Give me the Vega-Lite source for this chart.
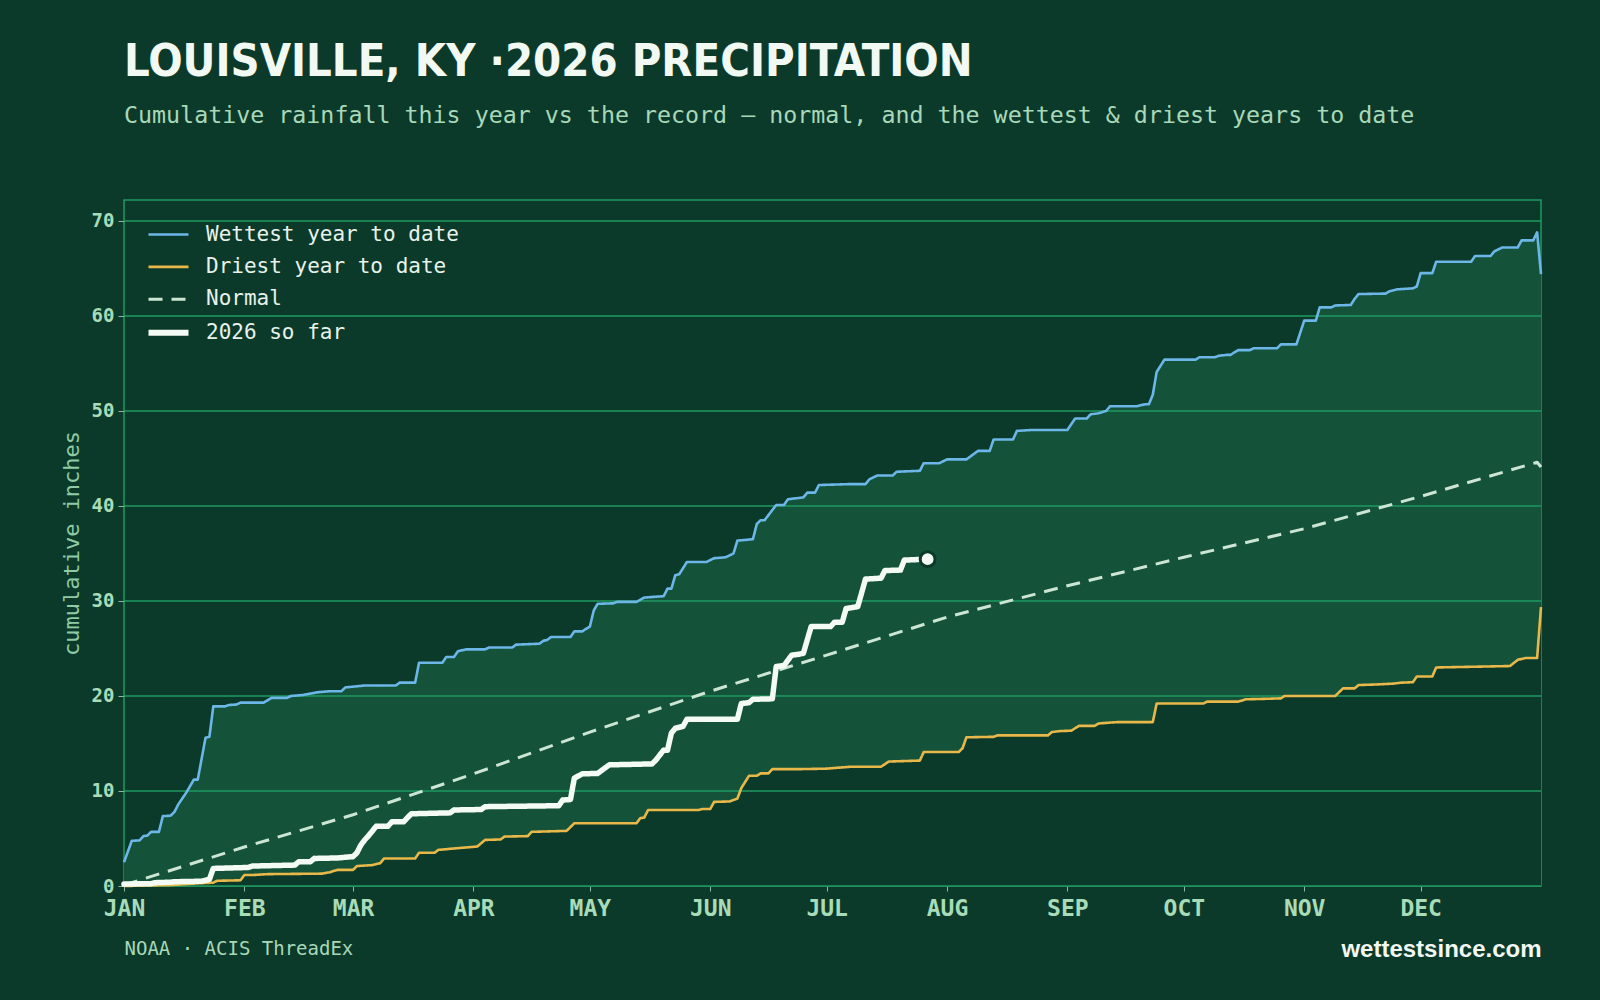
{
  "$schema": "https://vega.github.io/schema/vega-lite/v6.json",
  "autosize": {"type": "none"},
  "width": 1417,
  "height": 686,
  "padding": {"left": 124, "top": 200, "right": 59, "bottom": 114},
  "background": "#0c3a2a",
  "config": {
    "view": {"stroke": "#1f9a60", "strokeWidth": 1.5},
    "font": "DejaVu Sans Mono"
  },
  "title": {
    "text": "LOUISVILLE, KY ·2026 PRECIPITATION",
    "subtitle": "Cumulative rainfall this year vs the record — normal, and the wettest & driest years to date",
    "anchor": "start",
    "frame": "group",
    "font": "Liberation Sans Narrow, DejaVu Sans Condensed, Liberation Sans",
    "fontSize": 45,
    "fontWeight": "bold",
    "color": "#f2f8f2",
    "subtitleFont": "DejaVu Sans Mono",
    "subtitleFontSize": 23.3,
    "subtitleColor": "#a8d8b8",
    "subtitlePadding": 20,
    "offset": 73
  },
  "datasets": {
    "rain": [
      {"series": "Wettest year to date", "date": "2026-01-01", "inches": 2.5},
      {"series": "Wettest year to date", "date": "2026-01-03", "inches": 4.75},
      {"series": "Wettest year to date", "date": "2026-01-05", "inches": 4.8},
      {"series": "Wettest year to date", "date": "2026-01-06", "inches": 5.25},
      {"series": "Wettest year to date", "date": "2026-01-07", "inches": 5.3},
      {"series": "Wettest year to date", "date": "2026-01-08", "inches": 5.7},
      {"series": "Wettest year to date", "date": "2026-01-10", "inches": 5.7},
      {"series": "Wettest year to date", "date": "2026-01-11", "inches": 7.35},
      {"series": "Wettest year to date", "date": "2026-01-13", "inches": 7.4},
      {"series": "Wettest year to date", "date": "2026-01-14", "inches": 7.8},
      {"series": "Wettest year to date", "date": "2026-01-15", "inches": 8.6},
      {"series": "Wettest year to date", "date": "2026-01-16", "inches": 9.2},
      {"series": "Wettest year to date", "date": "2026-01-17", "inches": 9.8},
      {"series": "Wettest year to date", "date": "2026-01-18", "inches": 10.5},
      {"series": "Wettest year to date", "date": "2026-01-19", "inches": 11.2},
      {"series": "Wettest year to date", "date": "2026-01-20", "inches": 11.2},
      {"series": "Wettest year to date", "date": "2026-01-21", "inches": 13.4},
      {"series": "Wettest year to date", "date": "2026-01-22", "inches": 15.6},
      {"series": "Wettest year to date", "date": "2026-01-23", "inches": 15.7},
      {"series": "Wettest year to date", "date": "2026-01-24", "inches": 18.9},
      {"series": "Wettest year to date", "date": "2026-01-27", "inches": 18.9},
      {"series": "Wettest year to date", "date": "2026-01-28", "inches": 19.05},
      {"series": "Wettest year to date", "date": "2026-01-30", "inches": 19.1},
      {"series": "Wettest year to date", "date": "2026-01-31", "inches": 19.3},
      {"series": "Wettest year to date", "date": "2026-02-06", "inches": 19.3},
      {"series": "Wettest year to date", "date": "2026-02-08", "inches": 19.8},
      {"series": "Wettest year to date", "date": "2026-02-12", "inches": 19.8},
      {"series": "Wettest year to date", "date": "2026-02-13", "inches": 20.0},
      {"series": "Wettest year to date", "date": "2026-02-16", "inches": 20.1},
      {"series": "Wettest year to date", "date": "2026-02-20", "inches": 20.4},
      {"series": "Wettest year to date", "date": "2026-02-23", "inches": 20.5},
      {"series": "Wettest year to date", "date": "2026-02-26", "inches": 20.5},
      {"series": "Wettest year to date", "date": "2026-02-27", "inches": 20.9},
      {"series": "Wettest year to date", "date": "2026-03-04", "inches": 21.1},
      {"series": "Wettest year to date", "date": "2026-03-12", "inches": 21.1},
      {"series": "Wettest year to date", "date": "2026-03-13", "inches": 21.4},
      {"series": "Wettest year to date", "date": "2026-03-17", "inches": 21.4},
      {"series": "Wettest year to date", "date": "2026-03-18", "inches": 23.5},
      {"series": "Wettest year to date", "date": "2026-03-24", "inches": 23.5},
      {"series": "Wettest year to date", "date": "2026-03-25", "inches": 24.1},
      {"series": "Wettest year to date", "date": "2026-03-27", "inches": 24.1},
      {"series": "Wettest year to date", "date": "2026-03-28", "inches": 24.7},
      {"series": "Wettest year to date", "date": "2026-03-30", "inches": 24.9},
      {"series": "Wettest year to date", "date": "2026-04-04", "inches": 24.9},
      {"series": "Wettest year to date", "date": "2026-04-05", "inches": 25.1},
      {"series": "Wettest year to date", "date": "2026-04-11", "inches": 25.1},
      {"series": "Wettest year to date", "date": "2026-04-12", "inches": 25.4},
      {"series": "Wettest year to date", "date": "2026-04-18", "inches": 25.5},
      {"series": "Wettest year to date", "date": "2026-04-19", "inches": 25.8},
      {"series": "Wettest year to date", "date": "2026-04-20", "inches": 25.9},
      {"series": "Wettest year to date", "date": "2026-04-21", "inches": 26.2},
      {"series": "Wettest year to date", "date": "2026-04-26", "inches": 26.2},
      {"series": "Wettest year to date", "date": "2026-04-27", "inches": 26.8},
      {"series": "Wettest year to date", "date": "2026-04-29", "inches": 26.8},
      {"series": "Wettest year to date", "date": "2026-05-01", "inches": 27.3},
      {"series": "Wettest year to date", "date": "2026-05-02", "inches": 29.0},
      {"series": "Wettest year to date", "date": "2026-05-03", "inches": 29.7},
      {"series": "Wettest year to date", "date": "2026-05-07", "inches": 29.75},
      {"series": "Wettest year to date", "date": "2026-05-08", "inches": 29.9},
      {"series": "Wettest year to date", "date": "2026-05-13", "inches": 29.9},
      {"series": "Wettest year to date", "date": "2026-05-15", "inches": 30.35},
      {"series": "Wettest year to date", "date": "2026-05-18", "inches": 30.45},
      {"series": "Wettest year to date", "date": "2026-05-20", "inches": 30.5},
      {"series": "Wettest year to date", "date": "2026-05-21", "inches": 31.3},
      {"series": "Wettest year to date", "date": "2026-05-22", "inches": 31.3},
      {"series": "Wettest year to date", "date": "2026-05-23", "inches": 32.7},
      {"series": "Wettest year to date", "date": "2026-05-24", "inches": 32.8},
      {"series": "Wettest year to date", "date": "2026-05-26", "inches": 34.1},
      {"series": "Wettest year to date", "date": "2026-05-31", "inches": 34.1},
      {"series": "Wettest year to date", "date": "2026-06-02", "inches": 34.5},
      {"series": "Wettest year to date", "date": "2026-06-05", "inches": 34.6},
      {"series": "Wettest year to date", "date": "2026-06-07", "inches": 35.0},
      {"series": "Wettest year to date", "date": "2026-06-08", "inches": 36.35},
      {"series": "Wettest year to date", "date": "2026-06-12", "inches": 36.5},
      {"series": "Wettest year to date", "date": "2026-06-13", "inches": 38.1},
      {"series": "Wettest year to date", "date": "2026-06-14", "inches": 38.5},
      {"series": "Wettest year to date", "date": "2026-06-15", "inches": 38.5},
      {"series": "Wettest year to date", "date": "2026-06-18", "inches": 40.1},
      {"series": "Wettest year to date", "date": "2026-06-20", "inches": 40.1},
      {"series": "Wettest year to date", "date": "2026-06-21", "inches": 40.7},
      {"series": "Wettest year to date", "date": "2026-06-25", "inches": 40.9},
      {"series": "Wettest year to date", "date": "2026-06-26", "inches": 41.4},
      {"series": "Wettest year to date", "date": "2026-06-28", "inches": 41.4},
      {"series": "Wettest year to date", "date": "2026-06-29", "inches": 42.2},
      {"series": "Wettest year to date", "date": "2026-07-07", "inches": 42.3},
      {"series": "Wettest year to date", "date": "2026-07-11", "inches": 42.3},
      {"series": "Wettest year to date", "date": "2026-07-12", "inches": 42.8},
      {"series": "Wettest year to date", "date": "2026-07-14", "inches": 43.2},
      {"series": "Wettest year to date", "date": "2026-07-18", "inches": 43.2},
      {"series": "Wettest year to date", "date": "2026-07-19", "inches": 43.6},
      {"series": "Wettest year to date", "date": "2026-07-25", "inches": 43.7},
      {"series": "Wettest year to date", "date": "2026-07-26", "inches": 44.5},
      {"series": "Wettest year to date", "date": "2026-07-30", "inches": 44.5},
      {"series": "Wettest year to date", "date": "2026-08-01", "inches": 44.9},
      {"series": "Wettest year to date", "date": "2026-08-06", "inches": 44.9},
      {"series": "Wettest year to date", "date": "2026-08-08", "inches": 45.5},
      {"series": "Wettest year to date", "date": "2026-08-09", "inches": 45.8},
      {"series": "Wettest year to date", "date": "2026-08-12", "inches": 45.8},
      {"series": "Wettest year to date", "date": "2026-08-13", "inches": 47.0},
      {"series": "Wettest year to date", "date": "2026-08-18", "inches": 47.0},
      {"series": "Wettest year to date", "date": "2026-08-19", "inches": 47.9},
      {"series": "Wettest year to date", "date": "2026-08-23", "inches": 48.0},
      {"series": "Wettest year to date", "date": "2026-09-01", "inches": 48.0},
      {"series": "Wettest year to date", "date": "2026-09-03", "inches": 49.2},
      {"series": "Wettest year to date", "date": "2026-09-06", "inches": 49.2},
      {"series": "Wettest year to date", "date": "2026-09-07", "inches": 49.65},
      {"series": "Wettest year to date", "date": "2026-09-09", "inches": 49.75},
      {"series": "Wettest year to date", "date": "2026-09-11", "inches": 50.0},
      {"series": "Wettest year to date", "date": "2026-09-12", "inches": 50.5},
      {"series": "Wettest year to date", "date": "2026-09-19", "inches": 50.5},
      {"series": "Wettest year to date", "date": "2026-09-21", "inches": 50.7},
      {"series": "Wettest year to date", "date": "2026-09-22", "inches": 50.7},
      {"series": "Wettest year to date", "date": "2026-09-23", "inches": 51.7},
      {"series": "Wettest year to date", "date": "2026-09-24", "inches": 54.1},
      {"series": "Wettest year to date", "date": "2026-09-26", "inches": 55.4},
      {"series": "Wettest year to date", "date": "2026-10-04", "inches": 55.4},
      {"series": "Wettest year to date", "date": "2026-10-05", "inches": 55.65},
      {"series": "Wettest year to date", "date": "2026-10-09", "inches": 55.65},
      {"series": "Wettest year to date", "date": "2026-10-10", "inches": 55.8},
      {"series": "Wettest year to date", "date": "2026-10-12", "inches": 55.9},
      {"series": "Wettest year to date", "date": "2026-10-13", "inches": 55.9},
      {"series": "Wettest year to date", "date": "2026-10-15", "inches": 56.4},
      {"series": "Wettest year to date", "date": "2026-10-18", "inches": 56.4},
      {"series": "Wettest year to date", "date": "2026-10-19", "inches": 56.6},
      {"series": "Wettest year to date", "date": "2026-10-25", "inches": 56.6},
      {"series": "Wettest year to date", "date": "2026-10-26", "inches": 57.0},
      {"series": "Wettest year to date", "date": "2026-10-30", "inches": 57.0},
      {"series": "Wettest year to date", "date": "2026-11-01", "inches": 59.5},
      {"series": "Wettest year to date", "date": "2026-11-04", "inches": 59.5},
      {"series": "Wettest year to date", "date": "2026-11-05", "inches": 60.9},
      {"series": "Wettest year to date", "date": "2026-11-08", "inches": 60.9},
      {"series": "Wettest year to date", "date": "2026-11-09", "inches": 61.1},
      {"series": "Wettest year to date", "date": "2026-11-13", "inches": 61.15},
      {"series": "Wettest year to date", "date": "2026-11-14", "inches": 61.8},
      {"series": "Wettest year to date", "date": "2026-11-15", "inches": 62.3},
      {"series": "Wettest year to date", "date": "2026-11-22", "inches": 62.35},
      {"series": "Wettest year to date", "date": "2026-11-23", "inches": 62.6},
      {"series": "Wettest year to date", "date": "2026-11-25", "inches": 62.8},
      {"series": "Wettest year to date", "date": "2026-11-29", "inches": 62.9},
      {"series": "Wettest year to date", "date": "2026-11-30", "inches": 63.1},
      {"series": "Wettest year to date", "date": "2026-12-01", "inches": 64.5},
      {"series": "Wettest year to date", "date": "2026-12-04", "inches": 64.5},
      {"series": "Wettest year to date", "date": "2026-12-05", "inches": 65.7},
      {"series": "Wettest year to date", "date": "2026-12-14", "inches": 65.7},
      {"series": "Wettest year to date", "date": "2026-12-15", "inches": 66.3},
      {"series": "Wettest year to date", "date": "2026-12-19", "inches": 66.3},
      {"series": "Wettest year to date", "date": "2026-12-20", "inches": 66.8},
      {"series": "Wettest year to date", "date": "2026-12-21", "inches": 67.0},
      {"series": "Wettest year to date", "date": "2026-12-22", "inches": 67.2},
      {"series": "Wettest year to date", "date": "2026-12-26", "inches": 67.2},
      {"series": "Wettest year to date", "date": "2026-12-27", "inches": 67.95},
      {"series": "Wettest year to date", "date": "2026-12-30", "inches": 67.95},
      {"series": "Wettest year to date", "date": "2026-12-31", "inches": 68.8},
      {"series": "Wettest year to date", "date": "2027-01-01", "inches": 64.4},

      {"series": "Driest year to date", "date": "2026-01-01", "inches": 0.0},
      {"series": "Driest year to date", "date": "2026-01-13", "inches": 0.1},
      {"series": "Driest year to date", "date": "2026-01-21", "inches": 0.3},
      {"series": "Driest year to date", "date": "2026-01-24", "inches": 0.35},
      {"series": "Driest year to date", "date": "2026-01-25", "inches": 0.55},
      {"series": "Driest year to date", "date": "2026-01-31", "inches": 0.6},
      {"series": "Driest year to date", "date": "2026-02-01", "inches": 1.15},
      {"series": "Driest year to date", "date": "2026-02-03", "inches": 1.15},
      {"series": "Driest year to date", "date": "2026-02-07", "inches": 1.25},
      {"series": "Driest year to date", "date": "2026-02-21", "inches": 1.3},
      {"series": "Driest year to date", "date": "2026-02-23", "inches": 1.45},
      {"series": "Driest year to date", "date": "2026-02-25", "inches": 1.7},
      {"series": "Driest year to date", "date": "2026-03-01", "inches": 1.7},
      {"series": "Driest year to date", "date": "2026-03-02", "inches": 2.1},
      {"series": "Driest year to date", "date": "2026-03-06", "inches": 2.2},
      {"series": "Driest year to date", "date": "2026-03-08", "inches": 2.4},
      {"series": "Driest year to date", "date": "2026-03-09", "inches": 2.9},
      {"series": "Driest year to date", "date": "2026-03-17", "inches": 2.9},
      {"series": "Driest year to date", "date": "2026-03-18", "inches": 3.5},
      {"series": "Driest year to date", "date": "2026-03-22", "inches": 3.5},
      {"series": "Driest year to date", "date": "2026-03-23", "inches": 3.8},
      {"series": "Driest year to date", "date": "2026-03-27", "inches": 3.95},
      {"series": "Driest year to date", "date": "2026-04-02", "inches": 4.15},
      {"series": "Driest year to date", "date": "2026-04-04", "inches": 4.85},
      {"series": "Driest year to date", "date": "2026-04-08", "inches": 4.9},
      {"series": "Driest year to date", "date": "2026-04-09", "inches": 5.2},
      {"series": "Driest year to date", "date": "2026-04-15", "inches": 5.25},
      {"series": "Driest year to date", "date": "2026-04-16", "inches": 5.7},
      {"series": "Driest year to date", "date": "2026-04-25", "inches": 5.8},
      {"series": "Driest year to date", "date": "2026-04-27", "inches": 6.6},
      {"series": "Driest year to date", "date": "2026-05-13", "inches": 6.6},
      {"series": "Driest year to date", "date": "2026-05-14", "inches": 7.15},
      {"series": "Driest year to date", "date": "2026-05-15", "inches": 7.2},
      {"series": "Driest year to date", "date": "2026-05-16", "inches": 8.0},
      {"series": "Driest year to date", "date": "2026-05-29", "inches": 8.0},
      {"series": "Driest year to date", "date": "2026-05-30", "inches": 8.1},
      {"series": "Driest year to date", "date": "2026-06-01", "inches": 8.1},
      {"series": "Driest year to date", "date": "2026-06-02", "inches": 8.85},
      {"series": "Driest year to date", "date": "2026-06-06", "inches": 8.9},
      {"series": "Driest year to date", "date": "2026-06-08", "inches": 9.2},
      {"series": "Driest year to date", "date": "2026-06-09", "inches": 10.3},
      {"series": "Driest year to date", "date": "2026-06-11", "inches": 11.6},
      {"series": "Driest year to date", "date": "2026-06-13", "inches": 11.6},
      {"series": "Driest year to date", "date": "2026-06-14", "inches": 11.85},
      {"series": "Driest year to date", "date": "2026-06-16", "inches": 11.85},
      {"series": "Driest year to date", "date": "2026-06-17", "inches": 12.3},
      {"series": "Driest year to date", "date": "2026-06-24", "inches": 12.3},
      {"series": "Driest year to date", "date": "2026-07-01", "inches": 12.35},
      {"series": "Driest year to date", "date": "2026-07-07", "inches": 12.55},
      {"series": "Driest year to date", "date": "2026-07-15", "inches": 12.55},
      {"series": "Driest year to date", "date": "2026-07-17", "inches": 13.1},
      {"series": "Driest year to date", "date": "2026-07-21", "inches": 13.15},
      {"series": "Driest year to date", "date": "2026-07-25", "inches": 13.2},
      {"series": "Driest year to date", "date": "2026-07-26", "inches": 14.1},
      {"series": "Driest year to date", "date": "2026-08-04", "inches": 14.1},
      {"series": "Driest year to date", "date": "2026-08-05", "inches": 14.5},
      {"series": "Driest year to date", "date": "2026-08-06", "inches": 15.65},
      {"series": "Driest year to date", "date": "2026-08-13", "inches": 15.7},
      {"series": "Driest year to date", "date": "2026-08-14", "inches": 15.85},
      {"series": "Driest year to date", "date": "2026-08-27", "inches": 15.85},
      {"series": "Driest year to date", "date": "2026-08-28", "inches": 16.2},
      {"series": "Driest year to date", "date": "2026-08-30", "inches": 16.3},
      {"series": "Driest year to date", "date": "2026-09-02", "inches": 16.35},
      {"series": "Driest year to date", "date": "2026-09-04", "inches": 16.85},
      {"series": "Driest year to date", "date": "2026-09-08", "inches": 16.85},
      {"series": "Driest year to date", "date": "2026-09-09", "inches": 17.1},
      {"series": "Driest year to date", "date": "2026-09-12", "inches": 17.2},
      {"series": "Driest year to date", "date": "2026-09-14", "inches": 17.25},
      {"series": "Driest year to date", "date": "2026-09-23", "inches": 17.25},
      {"series": "Driest year to date", "date": "2026-09-24", "inches": 19.2},
      {"series": "Driest year to date", "date": "2026-10-06", "inches": 19.2},
      {"series": "Driest year to date", "date": "2026-10-07", "inches": 19.4},
      {"series": "Driest year to date", "date": "2026-10-15", "inches": 19.4},
      {"series": "Driest year to date", "date": "2026-10-17", "inches": 19.65},
      {"series": "Driest year to date", "date": "2026-10-22", "inches": 19.7},
      {"series": "Driest year to date", "date": "2026-10-26", "inches": 19.75},
      {"series": "Driest year to date", "date": "2026-10-27", "inches": 20.0},
      {"series": "Driest year to date", "date": "2026-11-09", "inches": 20.0},
      {"series": "Driest year to date", "date": "2026-11-11", "inches": 20.8},
      {"series": "Driest year to date", "date": "2026-11-14", "inches": 20.8},
      {"series": "Driest year to date", "date": "2026-11-15", "inches": 21.15},
      {"series": "Driest year to date", "date": "2026-11-19", "inches": 21.2},
      {"series": "Driest year to date", "date": "2026-11-24", "inches": 21.3},
      {"series": "Driest year to date", "date": "2026-11-26", "inches": 21.4},
      {"series": "Driest year to date", "date": "2026-11-29", "inches": 21.45},
      {"series": "Driest year to date", "date": "2026-11-30", "inches": 22.05},
      {"series": "Driest year to date", "date": "2026-12-04", "inches": 22.05},
      {"series": "Driest year to date", "date": "2026-12-05", "inches": 23.0},
      {"series": "Driest year to date", "date": "2026-12-24", "inches": 23.15},
      {"series": "Driest year to date", "date": "2026-12-26", "inches": 23.8},
      {"series": "Driest year to date", "date": "2026-12-28", "inches": 24.0},
      {"series": "Driest year to date", "date": "2026-12-31", "inches": 24.0},
      {"series": "Driest year to date", "date": "2027-01-01", "inches": 29.35},

      {"series": "Normal", "date": "2026-01-01", "inches": 0.1},
      {"series": "Normal", "date": "2026-02-01", "inches": 4.1},
      {"series": "Normal", "date": "2026-03-01", "inches": 7.5},
      {"series": "Normal", "date": "2026-04-01", "inches": 11.8},
      {"series": "Normal", "date": "2026-05-01", "inches": 16.2},
      {"series": "Normal", "date": "2026-06-01", "inches": 20.5},
      {"series": "Normal", "date": "2026-07-01", "inches": 24.3},
      {"series": "Normal", "date": "2026-08-01", "inches": 28.3},
      {"series": "Normal", "date": "2026-09-01", "inches": 31.6},
      {"series": "Normal", "date": "2026-10-01", "inches": 34.6},
      {"series": "Normal", "date": "2026-11-01", "inches": 37.6},
      {"series": "Normal", "date": "2026-12-01", "inches": 41.0},
      {"series": "Normal", "date": "2026-12-31", "inches": 44.6},
      {"series": "Normal", "date": "2027-01-01", "inches": 44.1},

      {"series": "2026 so far", "date": "2026-01-01", "inches": 0.2},
      {"series": "2026 so far", "date": "2026-01-08", "inches": 0.25},
      {"series": "2026 so far", "date": "2026-01-09", "inches": 0.35},
      {"series": "2026 so far", "date": "2026-01-13", "inches": 0.4},
      {"series": "2026 so far", "date": "2026-01-14", "inches": 0.45},
      {"series": "2026 so far", "date": "2026-01-21", "inches": 0.5},
      {"series": "2026 so far", "date": "2026-01-23", "inches": 0.7},
      {"series": "2026 so far", "date": "2026-01-24", "inches": 1.85},
      {"series": "2026 so far", "date": "2026-02-02", "inches": 1.95},
      {"series": "2026 so far", "date": "2026-02-03", "inches": 2.1},
      {"series": "2026 so far", "date": "2026-02-14", "inches": 2.2},
      {"series": "2026 so far", "date": "2026-02-15", "inches": 2.55},
      {"series": "2026 so far", "date": "2026-02-18", "inches": 2.55},
      {"series": "2026 so far", "date": "2026-02-19", "inches": 2.9},
      {"series": "2026 so far", "date": "2026-02-25", "inches": 2.95},
      {"series": "2026 so far", "date": "2026-03-01", "inches": 3.1},
      {"series": "2026 so far", "date": "2026-03-02", "inches": 3.5},
      {"series": "2026 so far", "date": "2026-03-03", "inches": 4.3},
      {"series": "2026 so far", "date": "2026-03-04", "inches": 4.85},
      {"series": "2026 so far", "date": "2026-03-05", "inches": 5.3},
      {"series": "2026 so far", "date": "2026-03-07", "inches": 6.3},
      {"series": "2026 so far", "date": "2026-03-10", "inches": 6.3},
      {"series": "2026 so far", "date": "2026-03-11", "inches": 6.75},
      {"series": "2026 so far", "date": "2026-03-14", "inches": 6.75},
      {"series": "2026 so far", "date": "2026-03-16", "inches": 7.6},
      {"series": "2026 so far", "date": "2026-03-26", "inches": 7.7},
      {"series": "2026 so far", "date": "2026-03-27", "inches": 8.0},
      {"series": "2026 so far", "date": "2026-04-03", "inches": 8.05},
      {"series": "2026 so far", "date": "2026-04-04", "inches": 8.35},
      {"series": "2026 so far", "date": "2026-04-23", "inches": 8.45},
      {"series": "2026 so far", "date": "2026-04-24", "inches": 9.05},
      {"series": "2026 so far", "date": "2026-04-26", "inches": 9.1},
      {"series": "2026 so far", "date": "2026-04-27", "inches": 11.35},
      {"series": "2026 so far", "date": "2026-04-29", "inches": 11.8},
      {"series": "2026 so far", "date": "2026-05-03", "inches": 11.85},
      {"series": "2026 so far", "date": "2026-05-06", "inches": 12.75},
      {"series": "2026 so far", "date": "2026-05-17", "inches": 12.85},
      {"series": "2026 so far", "date": "2026-05-18", "inches": 13.25},
      {"series": "2026 so far", "date": "2026-05-20", "inches": 14.3},
      {"series": "2026 so far", "date": "2026-05-21", "inches": 14.3},
      {"series": "2026 so far", "date": "2026-05-22", "inches": 16.1},
      {"series": "2026 so far", "date": "2026-05-23", "inches": 16.6},
      {"series": "2026 so far", "date": "2026-05-25", "inches": 16.8},
      {"series": "2026 so far", "date": "2026-05-26", "inches": 17.55},
      {"series": "2026 so far", "date": "2026-06-08", "inches": 17.55},
      {"series": "2026 so far", "date": "2026-06-09", "inches": 19.2},
      {"series": "2026 so far", "date": "2026-06-11", "inches": 19.3},
      {"series": "2026 so far", "date": "2026-06-12", "inches": 19.65},
      {"series": "2026 so far", "date": "2026-06-17", "inches": 19.7},
      {"series": "2026 so far", "date": "2026-06-18", "inches": 23.1},
      {"series": "2026 so far", "date": "2026-06-20", "inches": 23.2},
      {"series": "2026 so far", "date": "2026-06-22", "inches": 24.3},
      {"series": "2026 so far", "date": "2026-06-24", "inches": 24.4},
      {"series": "2026 so far", "date": "2026-06-25", "inches": 24.5},
      {"series": "2026 so far", "date": "2026-06-27", "inches": 27.3},
      {"series": "2026 so far", "date": "2026-07-02", "inches": 27.3},
      {"series": "2026 so far", "date": "2026-07-03", "inches": 27.75},
      {"series": "2026 so far", "date": "2026-07-05", "inches": 27.75},
      {"series": "2026 so far", "date": "2026-07-06", "inches": 29.2},
      {"series": "2026 so far", "date": "2026-07-09", "inches": 29.4},
      {"series": "2026 so far", "date": "2026-07-11", "inches": 32.3},
      {"series": "2026 so far", "date": "2026-07-15", "inches": 32.4},
      {"series": "2026 so far", "date": "2026-07-16", "inches": 33.2},
      {"series": "2026 so far", "date": "2026-07-20", "inches": 33.25},
      {"series": "2026 so far", "date": "2026-07-21", "inches": 34.3},
      {"series": "2026 so far", "date": "2026-07-27", "inches": 34.4}
    ],
    "gridlines": [
      {"inches": 0}, {"inches": 10}, {"inches": 20}, {"inches": 30},
      {"inches": 40}, {"inches": 50}, {"inches": 60}, {"inches": 70}
    ]
  },
  "layer": [
    {
      "data": {"name": "rain"},
      "layer": [
        {
          "transform": [{"filter": {"field": "series", "equal": "Wettest year to date"}}],
          "mark": {"type": "area", "color": "#14523a", "interpolate": "linear"},
          "encoding": {
            "x": {
              "field": "date", "type": "temporal", "title": "NOAA · ACIS ThreadEx",
              "scale": {"type": "utc", "domain": [{"year": 2026, "month": 1, "date": 1, "utc": true}, {"year": 2027, "month": 1, "date": 1, "utc": true}]},
              "axis": {
                "orient": "bottom",
                "values": [
                  {"year": 2026, "month": 1, "date": 1, "utc": true},
                  {"year": 2026, "month": 2, "date": 1, "utc": true},
                  {"year": 2026, "month": 3, "date": 1, "utc": true},
                  {"year": 2026, "month": 4, "date": 1, "utc": true},
                  {"year": 2026, "month": 5, "date": 1, "utc": true},
                  {"year": 2026, "month": 6, "date": 1, "utc": true},
                  {"year": 2026, "month": 7, "date": 1, "utc": true},
                  {"year": 2026, "month": 8, "date": 1, "utc": true},
                  {"year": 2026, "month": 9, "date": 1, "utc": true},
                  {"year": 2026, "month": 10, "date": 1, "utc": true},
                  {"year": 2026, "month": 11, "date": 1, "utc": true},
                  {"year": 2026, "month": 12, "date": 1, "utc": true}
                ],
                "labelExpr": "upper(utcFormat(datum.value, '%b'))",
                "labelFont": "DejaVu Sans Mono",
                "labelFontWeight": "bold",
                "labelFontSize": 23,
                "labelColor": "#a8dcb8",
                "labelPadding": 6,
                "labelFlush": false,
                "labelOverlap": false,
                "tickSize": 5,
                "tickColor": "#8fb8a0",
                "tickWidth": 1,
                "domain": false,
                "grid": false,
                "titleFont": "DejaVu Sans Mono",
                "titleFontWeight": "normal",
                "titleFontSize": 19,
                "titleColor": "#a8d8b8",
                "titleAnchor": "start",
                "titlePadding": 19
              }
            },
            "y": {
              "field": "inches", "type": "quantitative", "title": "cumulative inches",
              "scale": {"domain": [0, 72.2], "nice": false, "zero": true},
              "axis": {
                "values": [0, 10, 20, 30, 40, 50, 60, 70],
                "labelFont": "DejaVu Sans Mono",
                "labelFontWeight": "bold",
                "labelFontSize": 19,
                "labelColor": "#a8dcb8",
                "labelPadding": 4,
                "tickSize": 6,
                "tickColor": "#8fb8a0",
                "domain": false,
                "grid": false,
                "titleFont": "DejaVu Sans Mono",
                "titleFontWeight": "normal",
                "titleFontSize": 22,
                "titleColor": "#8fcaa4",
                "titlePadding": 8
              }
            }
          }
        },
        {
          "transform": [{"filter": {"field": "series", "equal": "Driest year to date"}}],
          "mark": {"type": "area", "color": "#0c3a2a", "interpolate": "linear"},
          "encoding": {
            "x": {"field": "date", "type": "temporal", "title": "NOAA · ACIS ThreadEx"},
            "y": {"field": "inches", "type": "quantitative", "title": "cumulative inches"}
          }
        },
        {
          "data": {"name": "gridlines"},
          "mark": {"type": "rule", "color": "#1f9a60", "strokeWidth": 1.5},
          "encoding": {
            "y": {"field": "inches", "type": "quantitative", "title": "cumulative inches"}
          }
        },
        {
          "transform": [{"filter": "datum.series === 'Wettest year to date' || datum.series === 'Driest year to date'"}],
          "mark": {"type": "line", "interpolate": "linear", "strokeJoin": "round", "strokeWidth": 2.6},
          "encoding": {
            "x": {"field": "date", "type": "temporal", "title": "NOAA · ACIS ThreadEx"},
            "y": {"field": "inches", "type": "quantitative", "title": "cumulative inches"},
            "color": {
              "field": "series", "type": "nominal",
              "scale": {
                "domain": ["Wettest year to date", "Driest year to date", "Normal", "2026 so far"],
                "range": ["#6cb6e8", "#e8b84a", "#cde6d4", "#f4faf4"]
              },
              "legend": {
                "title": null,
                "orient": "none",
                "legendX": 34,
                "legendY": 24,
                "padding": 0,
                "symbolType": "stroke",
                "symbolSize": 1600,
                "labelFont": "DejaVu Sans Mono",
                "labelFontSize": 21,
                "labelColor": "#e8f2ea",
                "labelOffset": 27,
                "labelLimit": 600,
                "rowPadding": 10.4,
                "encode": {
                  "symbols": {
                    "update": {
                      "strokeWidth": {"signal": "datum.value === '2026 so far' ? 6 : (datum.value === 'Normal' ? 3 : 2.6)"}
                    }
                  }
                }
              }
            },
            "strokeDash": {
              "field": "series", "type": "nominal",
              "scale": {
                "domain": ["Wettest year to date", "Driest year to date", "Normal", "2026 so far"],
                "range": [[1, 0], [1, 0], [14, 9], [1, 0]]
              },
              "legend": {
                "title": null,
                "orient": "none",
                "legendX": 34,
                "legendY": 24,
                "padding": 0,
                "symbolType": "stroke",
                "symbolSize": 1600,
                "labelFont": "DejaVu Sans Mono",
                "labelFontSize": 21,
                "labelColor": "#e8f2ea",
                "labelOffset": 27,
                "labelLimit": 600,
                "rowPadding": 10.4,
                "encode": {
                  "symbols": {
                    "update": {
                      "strokeWidth": {"signal": "datum.value === '2026 so far' ? 6 : (datum.value === 'Normal' ? 3 : 2.6)"}
                    }
                  }
                }
              }
            }
          }
        },
        {
          "transform": [{"filter": {"field": "series", "equal": "Normal"}}],
          "mark": {"type": "line", "interpolate": "linear", "strokeJoin": "round", "strokeWidth": 3},
          "encoding": {
            "x": {"field": "date", "type": "temporal", "title": "NOAA · ACIS ThreadEx"},
            "y": {"field": "inches", "type": "quantitative", "title": "cumulative inches"},
            "color": {"field": "series", "type": "nominal"},
            "strokeDash": {"field": "series", "type": "nominal"}
          }
        },
        {
          "transform": [{"filter": {"field": "series", "equal": "2026 so far"}}],
          "mark": {"type": "line", "interpolate": "linear", "strokeJoin": "round", "strokeCap": "round", "strokeWidth": 5.5},
          "encoding": {
            "x": {"field": "date", "type": "temporal", "title": "NOAA · ACIS ThreadEx"},
            "y": {"field": "inches", "type": "quantitative", "title": "cumulative inches"},
            "color": {"field": "series", "type": "nominal"},
            "strokeDash": {"field": "series", "type": "nominal"}
          }
        }
      ]
    },
    {
      "data": {"name": "rain"},
      "transform": [
        {"filter": {"field": "series", "equal": "2026 so far"}},
        {"joinaggregate": [{"op": "max", "field": "date", "as": "last"}]},
        {"filter": "+datum.date === +datum.last"}
      ],
      "mark": {"type": "point", "filled": true, "fill": "#f4faf4", "stroke": "#0c3a2a", "strokeWidth": 3, "strokeOpacity": 1, "opacity": 1, "size": 220},
      "encoding": {
        "x": {
          "field": "date", "type": "temporal", "title": "wettestsince.com",
          "axis": {
            "orient": "bottom",
            "labels": false,
            "ticks": false,
            "domain": false,
            "grid": false,
            "titleFont": "Liberation Sans",
            "titleFontWeight": "bold",
            "titleFontSize": 24,
            "titleColor": "#f2f8f2",
            "titleAnchor": "end",
            "titlePadding": 51
          }
        },
        "y": {"field": "inches", "type": "quantitative", "axis": null}
      }
    }
  ],
  "resolve": {"axis": {"x": "independent", "y": "independent"}}
}
